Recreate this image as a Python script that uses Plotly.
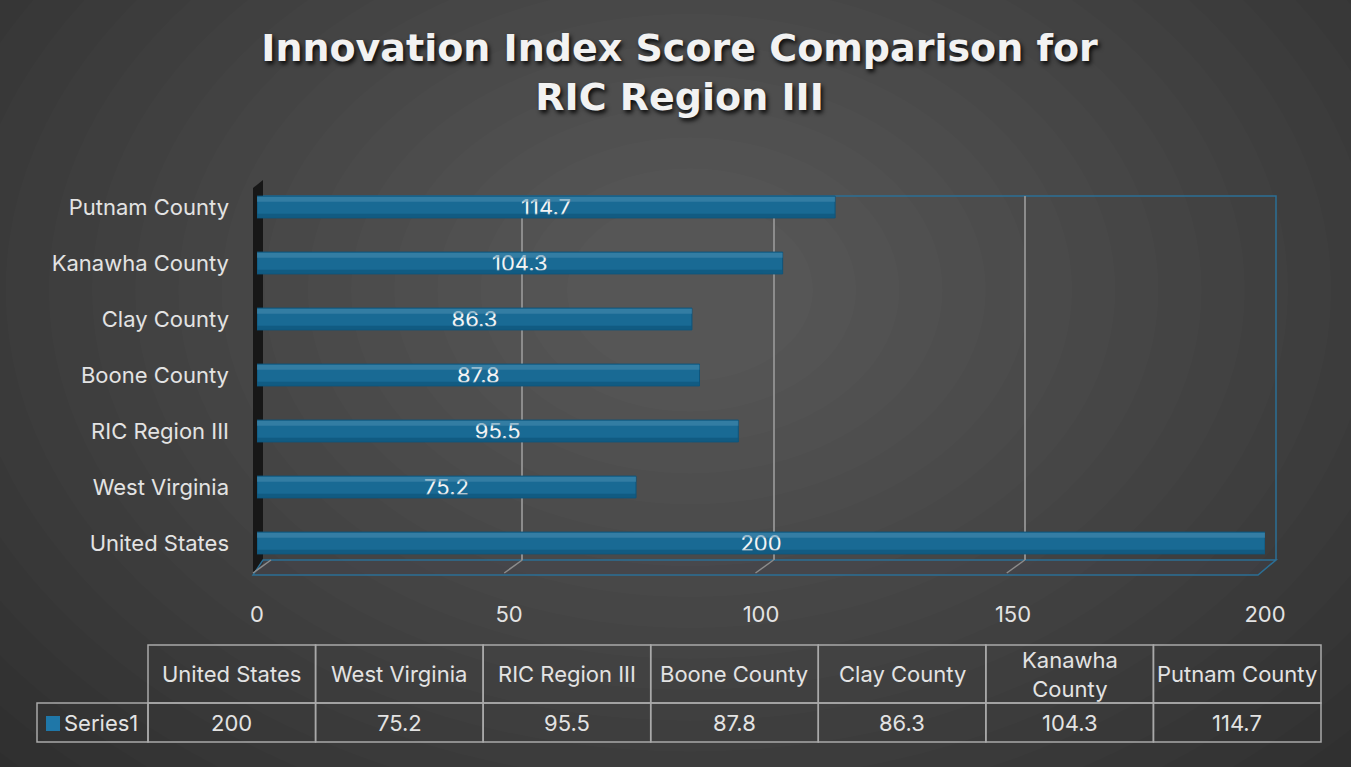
import plotly.graph_objects as go

# Data
categories = ["United States", "West Virginia", "RIC Region III", "Boone County",
              "Clay County", "Kanawha County", "Putnam County"]
scores = [200, 75.2, 95.5, 87.8, 86.3, 104.3, 114.7]
series_name = "Series1"
x_ticks = [0, 50, 100, 150, 200]
table_headers = ["United States", "West Virginia", "RIC Region III", "Boone County",
                 "Clay County", "Kanawha<br>County", "Putnam County"]

# Theme
BG = "#2a2a2a"
BAR = "#196a94"
BAR_HI = "#4a8db0"
BAR_LO = "#0f557b"
EDGE = "#2b6f95"
GRID = "#8c8c8c"
TEXT = "#e3e3e3"
FONT = "Inter"
FS = 22

W, H = 1351, 767


def fx(p):
    return p / W


def fy(p):
    return 1 - p / H


# pixel geometry of the pseudo-3D box
FRONT_L, FRONT_R = 257, 1265      # bars axis
WALL_L, WALL_R = 271, 1276        # back wall axis
WALL_T, WALL_B = 196, 560
ROW_T, ROW_B = 179, 571
FLOOR_Y = 575
DX = -18


def wall_x(v):
    return WALL_L + (WALL_R - WALL_L) * v / x_ticks[-1]


fig = go.Figure()

# dummy trace so the back wall subplot is drawn
fig.add_trace(go.Scatter(x=[None], y=[None], xaxis="x", yaxis="y",
                         showlegend=False, hoverinfo="skip"))

# main bars
fig.add_trace(go.Bar(
    x=scores, y=categories, orientation="h", name=series_name,
    xaxis="x2", yaxis="y2",
    width=0.39, offset=-0.195,
    marker=dict(color=BAR, line=dict(color=BAR_LO, width=1)),
    text=[f"{v:g}" for v in scores], textposition="inside",
    insidetextanchor="middle", textangle=0, constraintext="none",
    textfont=dict(family=FONT, size=FS, color="#f4f4f4"),
    showlegend=False,
))
# lighter top band and darker bottom band for the cylinder look
fig.add_trace(go.Bar(
    x=scores, y=categories, orientation="h", xaxis="x2", yaxis="y2",
    width=0.09, offset=0.095, marker=dict(color=BAR_HI, line=dict(width=0)),
    opacity=0.55, showlegend=False, hoverinfo="skip",
))
fig.add_trace(go.Bar(
    x=scores, y=categories, orientation="h", xaxis="x2", yaxis="y2",
    width=0.07, offset=-0.19, marker=dict(color=BAR_LO, line=dict(width=0)),
    opacity=0.7, showlegend=False, hoverinfo="skip",
))

shapes = []

# radial background glow
n = 22
for i in range(n):
    k = 1 - i / n
    cx, cy = 690, 290
    rx, ry = 80 + 950 * k, 60 + 680 * k
    shapes.append(dict(type="circle", xref="paper", yref="paper", layer="below",
                       x0=fx(cx - rx), x1=fx(cx + rx), y0=fy(cy + ry), y1=fy(cy - ry),
                       fillcolor="rgba(255,255,255,0.013)", line=dict(width=0)))

# dark left side wall
shapes.append(dict(type="path", xref="paper", yref="paper", layer="below",
                   path=f"M{fx(253)},{fy(188)} L{fx(263)},{fy(180)} L{fx(263)},{fy(563)} "
                        f"L{fx(253)},{fy(FLOOR_Y)} Z",
                   fillcolor="#171717", line=dict(width=0)))

# floor slab and wall outline
shapes.append(dict(type="path", xref="paper", yref="paper", layer="below",
                   path=f"M{fx(WALL_L - 8)},{fy(WALL_B)} L{fx(WALL_R)},{fy(WALL_B)} "
                        f"L{fx(WALL_R + DX)},{fy(FLOOR_Y)} L{fx(WALL_L + DX)},{fy(FLOOR_Y)} Z",
                   fillcolor="rgba(70,70,80,0.35)", line=dict(color=EDGE, width=1.5)))
shapes.append(dict(type="path", xref="paper", yref="paper", layer="below",
                   path=f"M{fx(263)},{fy(WALL_T)} L{fx(WALL_R)},{fy(WALL_T)} "
                        f"L{fx(WALL_R)},{fy(WALL_B)}",
                   line=dict(color=EDGE, width=1.5)))
for t in x_ticks[:-1]:
    xw = wall_x(t)
    shapes.append(dict(type="line", xref="paper", yref="paper", layer="below",
                       x0=fx(xw), y0=fy(WALL_B), x1=fx(xw + DX), y1=fy(FLOOR_Y - 2),
                       line=dict(color=GRID, width=1.5)))

# data table
TAB_L, TAB_R = 148, 1321
KEY_L = 37
HEAD_T, HEAD_B, ROW_END = 645, 703, 742
col_w = (TAB_R - TAB_L) / len(categories)
annotations = []
line_style = dict(color="#a9a9a9", width=1.5)
cell_font = dict(family=FONT, size=FS, color=TEXT)
shapes.append(dict(type="rect", xref="paper", yref="paper",
                   x0=fx(KEY_L), x1=fx(TAB_L), y0=fy(ROW_END), y1=fy(HEAD_B), line=line_style))
for i, (head, val) in enumerate(zip(table_headers, scores)):
    x0 = TAB_L + i * col_w
    x1 = x0 + col_w
    shapes.append(dict(type="rect", xref="paper", yref="paper",
                       x0=fx(x0), x1=fx(x1), y0=fy(HEAD_B), y1=fy(HEAD_T), line=line_style))
    shapes.append(dict(type="rect", xref="paper", yref="paper",
                       x0=fx(x0), x1=fx(x1), y0=fy(ROW_END), y1=fy(HEAD_B), line=line_style))
    annotations.append(dict(xref="paper", yref="paper", x=fx((x0 + x1) / 2),
                            y=fy((HEAD_T + HEAD_B) / 2), xanchor="center", yanchor="middle",
                            text=head, showarrow=False, font=cell_font))
    annotations.append(dict(xref="paper", yref="paper", x=fx((x0 + x1) / 2),
                            y=fy((HEAD_B + ROW_END) / 2), xanchor="center", yanchor="middle",
                            text=f"{val:g}", showarrow=False, font=cell_font))
# legend key in the table
shapes.append(dict(type="rect", xref="paper", yref="paper",
                   x0=fx(46), x1=fx(60), y0=fy(731), y1=fy(716),
                   fillcolor="#1f77a8", line=dict(width=0)))
annotations.append(dict(xref="paper", yref="paper", x=fx(62), y=fy((HEAD_B + ROW_END) / 2),
                        xanchor="left", yanchor="middle", text=series_name, showarrow=False,
                        font=cell_font))

fig.update_layout(
    width=W, height=H, autosize=False,
    margin=dict(l=0, r=0, t=0, b=0, pad=0),
    paper_bgcolor=BG,
    plot_bgcolor="rgba(0,0,0,0)",
    barmode="overlay",
    showlegend=False,
    font=dict(family=FONT, color=TEXT, size=FS),
    title=dict(
        text="Innovation Index Score Comparison for<br>RIC Region III",
        x=0.503, xanchor="center", y=fy(61), yanchor="middle",
        font=dict(family="DejaVu Sans", size=38, color="#f2f2f2", weight="bold",
                  shadow="2px 3px 4px rgba(0,0,0,0.85)"),
    ),
    # back wall (grid only)
    xaxis=dict(domain=[fx(WALL_L), fx(WALL_R)], range=[0, x_ticks[-1]], anchor="y",
               tickvals=x_ticks, showticklabels=False, showgrid=True, automargin=False,
               gridcolor=GRID, gridwidth=1.5, zeroline=False, showline=False),
    yaxis=dict(domain=[fy(WALL_B), fy(WALL_T)], range=[0, 1], anchor="x", automargin=False,
               showticklabels=False, showgrid=False, zeroline=False, showline=False),
    # front (bars)
    xaxis2=dict(domain=[fx(FRONT_L), fx(FRONT_R)], range=[0, x_ticks[-1]], anchor="y2",
                tickvals=x_ticks, showgrid=False, zeroline=False, showline=False,
                ticks="", ticklabelstandoff=28, automargin=False,
                tickfont=dict(family=FONT, size=FS, color=TEXT)),
    yaxis2=dict(domain=[fy(ROW_B), fy(ROW_T)], anchor="x2",
                categoryorder="array", categoryarray=categories,
                showgrid=False, zeroline=False, showline=False, ticks="",
                ticklabelstandoff=27, automargin=False,
                tickfont=dict(family=FONT, size=FS, color=TEXT)),
    shapes=shapes,
    annotations=annotations,
)

fig.write_html(
    "out.html",
    config={"displayModeBar": False},
    post_script=(
        "document.body.style.margin = '0px';"
        "document.body.style.overflow = 'hidden';"
        "var gd = document.getElementById('{plot_id}');"
        "Plotly.relayout(gd, {width: %d, height: %d});" % (W, H)
    ),
)
